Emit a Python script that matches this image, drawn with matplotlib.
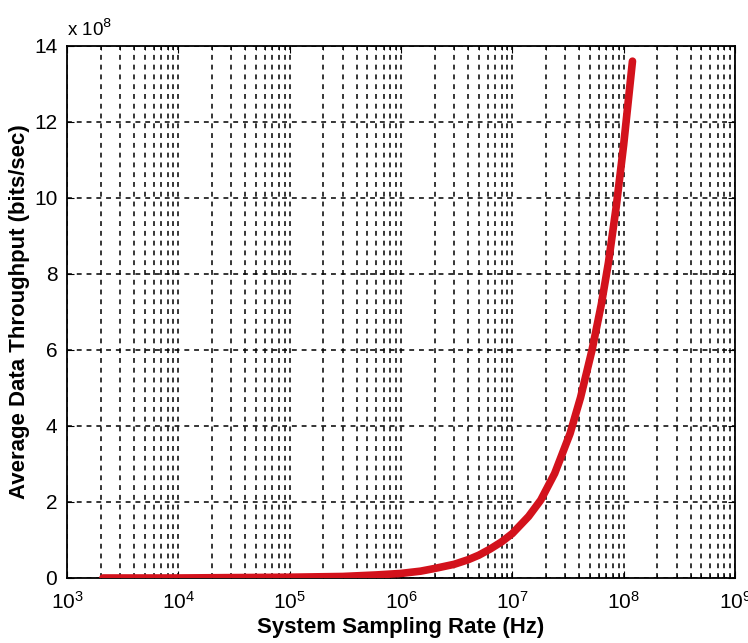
import matplotlib
matplotlib.use("Agg")
import matplotlib.pyplot as plt
from matplotlib.ticker import FuncFormatter, LogLocator, FixedLocator

# System sampling rate (Hz) and the resulting average throughput (bits/sec)
sampling_rate_hz = [2.1e3, 5e3, 1e4, 3e4, 1e5, 3e5, 6e5, 1e6, 1.5e6, 2e6,
                    3e6, 4e6, 5e6, 6.3e6, 8e6, 1e7, 1.4e7, 1.8e7, 2.4e7,
                    3.3e7, 4.1e7, 5.2e7, 6.3e7, 7.3e7, 8.6e7, 1e8, 1.2e8]
throughput_bps = [0.0, 0.0, 0.0, 0.01e8, 0.02e8, 0.04e8, 0.08e8, 0.12e8,
                  0.18e8, 0.25e8, 0.36e8, 0.48e8, 0.60e8, 0.76e8, 0.95e8,
                  1.17e8, 1.62e8, 2.05e8, 2.75e8, 3.8e8, 4.75e8, 6.0e8,
                  7.2e8, 8.3e8, 9.8e8, 11.4e8, 13.6e8]

y_ticks = [0, 2e8, 4e8, 6e8, 8e8, 10e8, 12e8, 14e8]
x_limits = (1e3, 1e9)
y_limits = (0, 14e8)

plt.rcParams['font.family'] = ['Liberation Sans', 'DejaVu Sans']

fig = plt.figure(figsize=(7.48, 6.43), dpi=100)
ax = fig.add_axes([0.0896, 0.1011, 0.893, 0.8274])

ax.set_xscale('log')
ax.set_xlim(*x_limits)
ax.set_ylim(*y_limits)

ax.plot(sampling_rate_hz, throughput_bps, color='#d3121c', linewidth=5.5,
        solid_capstyle='round', solid_joinstyle='round', zorder=3)

ax.yaxis.set_major_locator(FixedLocator(y_ticks))
ax.yaxis.set_major_formatter(FuncFormatter(lambda v, p: f"{v / 1e8:g}"))
ax.xaxis.set_major_locator(LogLocator(base=10, numticks=10))
ax.xaxis.set_minor_locator(LogLocator(base=10, subs=range(2, 10), numticks=100))

grid_style = dict(color='black', linestyle=(0, (3.2, 3.2)), linewidth=1.1)
ax.grid(True, which='major', axis='both', **grid_style)
ax.grid(True, which='minor', axis='x', **grid_style)

ax.tick_params(which='both', direction='in', top=True, right=True,
               labelsize=15)
ax.tick_params(axis='x', which='major', pad=9)
ax.tick_params(axis='y', which='major', pad=7)
ax.tick_params(which='major', length=5)
ax.tick_params(which='minor', length=3)
for s in ax.spines.values():
    s.set_linewidth(1.3)

ax.set_xlabel('System Sampling Rate (Hz)', fontsize=16, fontweight='bold',
              labelpad=3)
ax.set_ylabel('Average Data Throughput (bits/sec)', fontsize=16,
              fontweight='bold', labelpad=3)

ax.text(0.0, 1.012, r'x 10$^{8}$', transform=ax.transAxes, fontsize=13.5,
        ha='left', va='bottom')

fig.savefig('out.png', dpi=100, facecolor='white')
